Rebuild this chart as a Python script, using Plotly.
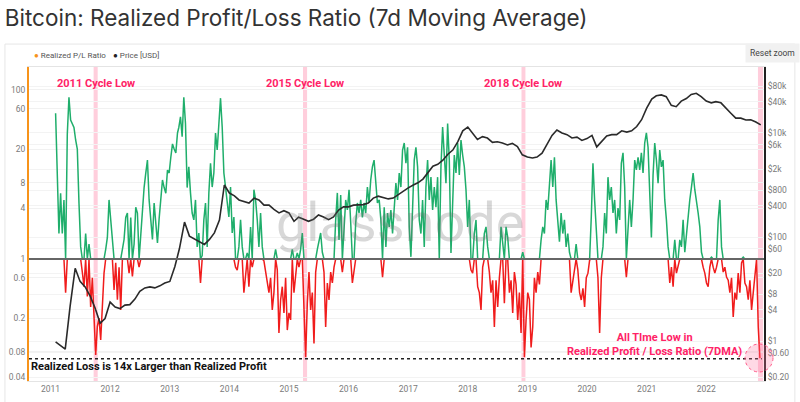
import numpy as np
import pandas as pd
import plotly.graph_objects as go

# ---------------- data ----------------
# Realized P/L ratio, 7DMA, sampled ~every 10 days, in four date segments
ratio_2011_2013 = [53, 10, 2.0, 6.0, 2.0, 5.0, 0.4, 30, 82, 44,
                   40, 36, 25.6, 20, 4.6, 1.4, 0.7, 0.47, 2.0, 0.36,
                   1.5, 0.27, 0.6, 0.19, 0.073, 0.16, 0.2, 0.11, 0.27, 0.68,
                   1.3, 1.8, 5.0, 2.9, 1.4, 0.43, 0.9, 0.33, 0.8, 0.25,
                   1.3, 1.7, 3.1, 3.5, 0.68, 3.1, 0.62, 1.5, 4.1, 3.5,
                   0.8, 2.0, 4.5, 7.0, 10.4, 14.8, 5.0, 2.9, 1.7, 4.6,
                   2.7, 1.55, 3.0, 5.4, 8.6, 7.0, 6.0, 11.3, 10.4, 16,
                   23, 20, 18, 31]
ratio_2013_2016 = [36, 48, 28, 82, 40, 7, 12.3, 6.05, 3.5, 2.9,
                   5.0, 1.39, 2.03, 0.52, 1.1, 2.9, 4.6, 1.39, 6.05, 13.6,
                   7.1, 10.4, 31, 19.5, 48, 80, 36.5, 10.4, 7.1, 5.0,
                   3.14, 7.1, 2.03, 3.14, 0.8, 0.74, 1.39, 2.9, 1.39, 0.4,
                   0.61, 1.18, 0.47, 2.39, 0.8, 6.6, 5.0, 2.9, 1.39, 3.5,
                   1.39, 0.95, 0.68, 0.56, 0.4, 0.6, 0.25, 0.4, 1.3, 0.75,
                   0.133, 0.327, 0.47, 0.23, 0.6, 0.144, 0.23, 0.19, 1.3, 0.4,
                   0.7, 1.18, 0.8, 1.3, 2.03, 0.3, 0.069, 0.3, 0.7, 0.25,
                   0.4, 0.1, 0.7, 1.3, 1.68, 2.03, 1.2, 0.7, 0.157, 0.52,
                   0.327, 0.7, 0.52, 0.8, 2.9, 6.05, 1.68, 5.7, 0.7, 2.2,
                   5.0, 3.8, 6.6, 2.7, 0.52, 0.7, 2.7, 4.6, 3.5, 5.0,
                   3.1, 4.6, 3.5, 7.1, 4.6, 8.6, 12.3, 14.8, 7.1, 4.6]
ratio_2016_2019 = [5.0, 2.9, 0.61, 4.1, 1.39, 3.5, 2.39, 3.8, 2.0, 4.6,
                   7.9, 5.0, 10.4, 7.1, 19.5, 23.6, 13.6, 21, 2.4, 1.06,
                   5.0, 14.8, 21, 12.3, 2.9, 2.0, 5.0, 1.39, 7.1, 14.8,
                   5.0, 9.3, 3.8, 7.1, 4.1, 9.3, 1.0, 12.3, 36.5, 14.8,
                   7.9, 40, 14.8, 1.18, 5.0, 17, 10.4, 23.6, 9.9, 25.6,
                   17, 12.3, 6.6, 2.4, 5.0, 0.74, 0.68, 2.0, 2.9, 0.47,
                   0.4, 0.25, 0.8, 2.0, 2.4, 1.39, 0.7, 0.4, 0.56, 0.157,
                   0.56, 0.27, 0.6, 2.4, 1.39, 0.3, 2.4, 1.8, 0.4, 0.56,
                   0.23, 0.7, 0.5, 0.19, 0.4, 0.133, 1.2, 0.069, 0.19, 0.4,
                   0.33, 0.09, 0.157, 0.6, 0.4, 0.7, 0.5, 1.68, 2.4, 2.0,
                   5.0, 3.8, 8.6, 14.8, 7.1, 16, 5.0, 2.9, 1.6, 3.5,
                   2.0, 2.9, 1.39, 2.0, 1.2, 0.4, 0.56, 0.8, 1.5, 0.75]
ratio_2019_2022 = [0.4, 0.327, 0.45, 0.27, 0.6, 0.68, 0.97, 3.14, 13.6, 5.0,
                   2.0, 0.6, 0.133, 0.6, 1.39, 3.5, 2.0, 9.3, 5.0, 7.1,
                   3.5, 5.0, 2.0, 4.0, 2.9, 13.6, 18, 7.1, 0.61, 2.4,
                   5.0, 2.4, 5.0, 14.8, 11.3, 16, 11.3, 18, 10.4, 23.6,
                   31, 21, 5.0, 1.8, 9.9, 23.6, 14.8, 7.9, 19.5, 12.3,
                   14.8, 5.0, 2.9, 1.39, 0.52, 0.8, 0.47, 1.68, 0.68, 0.8,
                   1.68, 1.39, 2.9, 1.2, 2.0, 3.14, 5.0, 7.1, 10.4, 6.6,
                   5.0, 3.5, 2.4, 1.2, 0.8, 0.68, 0.52, 0.47, 0.8, 1.05,
                   0.8, 0.68, 0.8, 2.9, 5.0, 1.39, 0.7, 0.8, 0.61, 0.56,
                   0.4, 0.6, 0.206, 0.4, 0.33, 0.68, 0.4, 0.9, 1.05, 0.52,
                   0.47, 0.33, 0.56, 0.249, 0.4, 0.7, 1.0, 0.157, 0.067]
ratio_segments = [("2011-02-01", "2013-02-17", ratio_2011_2013),
                  ("2013-02-25", "2016-06-26", ratio_2013_2016),
                  ("2016-07-07", "2019-11-06", ratio_2016_2019),
                  ("2019-11-17", "2022-11-26", ratio_2019_2022)]

# Monthly BTC price (USD), Feb 2011 .. Dec 2022
price_start = "2011-02-01"
price_usd = [0.96, 0.84, 0.7, 4.7, 25, 14, 11, 7.3, 4.3, 2.2,
             2.7, 5.6, 4.5, 4.2, 4.9, 5.0, 6.4, 9.0, 10.5, 11,
             10.5, 11.5, 13, 14, 27, 60, 194, 104, 92, 80,
             72, 90, 120, 211, 1000, 700, 620, 516, 480, 450,
             560, 516, 410, 410, 340, 290, 320, 290, 200, 240,
             220, 200, 220, 265, 243, 215, 243, 330, 380, 380,
             410, 420, 420, 450, 560, 610, 580, 540, 560, 650,
             780, 880, 1000, 1100, 1300, 1700, 2300, 2500, 3000, 3900,
             4700, 6800, 11000, 13000, 10000, 7500, 8500, 8000, 6600, 6800,
             6400, 5900, 6300, 5500, 3800, 3450, 3300, 3450, 4100, 6100,
             9000, 11400, 10000, 9300, 8000, 8300, 7200, 7800, 9000, 5400,
             6800, 8800, 9300, 9300, 11000, 10400, 11000, 13300, 18000, 30000,
             45000, 52000, 54000, 50000, 34000, 32000, 41000, 46000, 55000, 58000,
             50000, 41000, 38000, 40000, 38000, 31000, 24000, 19300, 19300, 17800,
             18000, 16300, 14300]

years = list(range(2011, 2023))
left_ticks = [0.04, 0.08, 0.2, 0.6, 1, 4, 8, 20, 60, 100]
right_ticks = [0.2, 0.6, 1, 4, 8, 20, 60, 100, 400, 800, 2000, 6000, 10000, 40000, 80000]
right_labels = ["$0.20", "$0.60", "$1", "$4", "$8", "$20", "$60", "$100", "$400", "$800",
                "$2k", "$6k", "$10k", "$40k", "$80k"]
cycle_lows = [("2011 Cycle Low", "2011-09-22", "2011-10-17"),
              ("2015 Cycle Low", "2015-03-28", "2015-04-22"),
              ("2018 Cycle Low", "2018-11-26", "2018-12-20")]
ftx_band = ("2022-11-14", "2022-12-15")
atl_value = 0.066

# ---------------- build ----------------
dates, vals = [], []
for s, e, v in ratio_segments:
    dates.extend(pd.date_range(s, e, periods=len(v)))
    vals.extend(v)
ratio = np.array(vals, dtype=float)
green = np.maximum(ratio, 1.0)
red = np.minimum(ratio, 1.0)
price_dates = pd.date_range(price_start, periods=len(price_usd), freq="MS")

GREEN = "#1fae6b"
RED = "#f01c1c"
PINK = "#ff2266"
FONT = "Roboto"

fig = go.Figure()
fig.add_trace(go.Scatter(x=dates, y=red, mode="lines", line=dict(color=RED, width=1.5),
                         hoverinfo="skip"))
fig.add_trace(go.Scatter(x=dates, y=green, mode="lines", line=dict(color=GREEN, width=1.5),
                         hoverinfo="skip"))
fig.add_trace(go.Scatter(x=price_dates, y=price_usd, mode="lines", yaxis="y2",
                         line=dict(color="#2a2a2a", width=1.6), hoverinfo="skip"))

shapes = []
# card border
shapes.append(dict(type="rect", xref="paper", yref="paper", x0=-0.0327, x1=1.042,
                   y0=-0.08, y1=1.073, line=dict(color="#e6e6e6", width=1),
                   fillcolor="rgba(0,0,0,0)", layer="below"))
for _, s, e in cycle_lows + [("", ftx_band[0], ftx_band[1])]:
    shapes.append(dict(type="rect", xref="x", yref="paper", x0=s, x1=e, y0=0, y1=1,
                       fillcolor="rgba(255,190,208,0.75)", line=dict(width=0), layer="below"))
shapes.append(dict(type="line", xref="paper", yref="y", x0=0, x1=1, y0=1, y1=1,
                   line=dict(color="#666666", width=2), layer="above"))
shapes.append(dict(type="line", xref="paper", yref="y", x0=0, x1=0.997, y0=atl_value, y1=atl_value,
                   line=dict(color="#222", width=1.4, dash="dot"), layer="above"))
# highlight circle around the all-time low (paper-anchored so it is not clipped)
shapes.append(dict(type="circle", xref="paper", yref="paper", xsizemode="pixel", ysizemode="pixel",
                   xanchor=0.9932, yanchor=0.0732, x0=-14, x1=14, y0=-14, y1=14,
                   fillcolor="rgba(255,120,160,0.28)", line=dict(color="#ff5c8a", width=1, dash="dot")))

ann = []
for name, s, e in cycle_lows:
    mid = pd.Timestamp(s) + (pd.Timestamp(e) - pd.Timestamp(s)) / 2
    ann.append(dict(text=f"<b>{name}</b>", xref="x", yref="paper", x=mid, y=0.949,
                    xanchor="center", yanchor="middle", showarrow=False,
                    font=dict(family=FONT, size=11, color=PINK)))
ann.append(dict(text="<b>Realized Loss is 14x Larger than Realized Profit</b>", xref="paper",
                yref="paper", x=0.0, y=0.0446, xanchor="left", yanchor="middle", showarrow=False,
                font=dict(family=FONT, size=11, color="#111")))
ann.append(dict(text="<b>All TIme Low in<br>Realized Profit / Loss Ratio (7DMA)</b>", xref="paper",
                yref="paper", x=0.8517, y=0.116, xanchor="center", yanchor="middle", showarrow=False,
                font=dict(family=FONT, size=11, color=PINK)))
ann.append(dict(text="glassnode", xref="paper", yref="paper", x=0.505, y=0.506, xanchor="center",
                yanchor="middle", showarrow=False,
                font=dict(family=FONT, size=54, color="rgba(110,110,110,0.27)")))
ann.append(dict(text='<span style="color:#f7931a">●</span> Realized P/L Ratio', xref="paper",
                yref="paper", x=0.004, y=1.038, xanchor="left", yanchor="middle", showarrow=False,
                font=dict(family=FONT, size=8, color="#555")))
ann.append(dict(text='<span style="color:#222">●</span> Price [USD]', xref="paper",
                yref="paper", x=0.111, y=1.038, xanchor="left", yanchor="middle", showarrow=False,
                font=dict(family=FONT, size=8, color="#555")))
ann.append(dict(text="Reset zoom", xref="paper", yref="paper", x=1.012, y=1.045, xanchor="center",
                yanchor="middle", showarrow=False, bgcolor="#f1f1f1", borderpad=4,
                font=dict(family=FONT, size=8.5, color="#444")))

tickfont = dict(family=FONT, size=8.5, color="#7a7a7a")
fig.update_layout(
    width=800, height=402,
    margin=dict(l=29, r=36, t=67, b=21, autoexpand=False),
    paper_bgcolor="white", plot_bgcolor="white",
    showlegend=False,
    title=dict(text="Bitcoin: Realized Profit/Loss Ratio (7d Moving Average)", x=0.006, xanchor="left",
               y=0.955, yanchor="middle", font=dict(family="Inter", size=22.5, color="#333")),
    xaxis=dict(type="date", range=["2010-08-22", "2022-12-21"], automargin=False,
               tickvals=[f"{y}-01-01" for y in years], ticktext=[str(y) for y in years],
               showgrid=False, showline=True, linecolor="#e4e4e4", linewidth=1, mirror=True,
               ticks="", tickfont=tickfont, zeroline=False),
    yaxis=dict(type="log", range=[-1.444, 2.272], tickvals=left_ticks, automargin=False,
               ticktext=[f"{t:g}" for t in left_ticks], showgrid=True, gridcolor="#f1f1f1",
               showline=True, linecolor="#f7931a", linewidth=2, ticks="", tickfont=tickfont,
               zeroline=False),
    yaxis2=dict(type="log", overlaying="y", side="right", range=[-0.769, 5.269], automargin=False,
                tickvals=right_ticks, ticktext=right_labels, showgrid=True, gridcolor="#f3f3f3",
                showline=True, linecolor="#222", linewidth=2, ticks="", tickfont=tickfont,
                zeroline=False),
    shapes=shapes, annotations=ann,
)

fig.write_html("out.html")
